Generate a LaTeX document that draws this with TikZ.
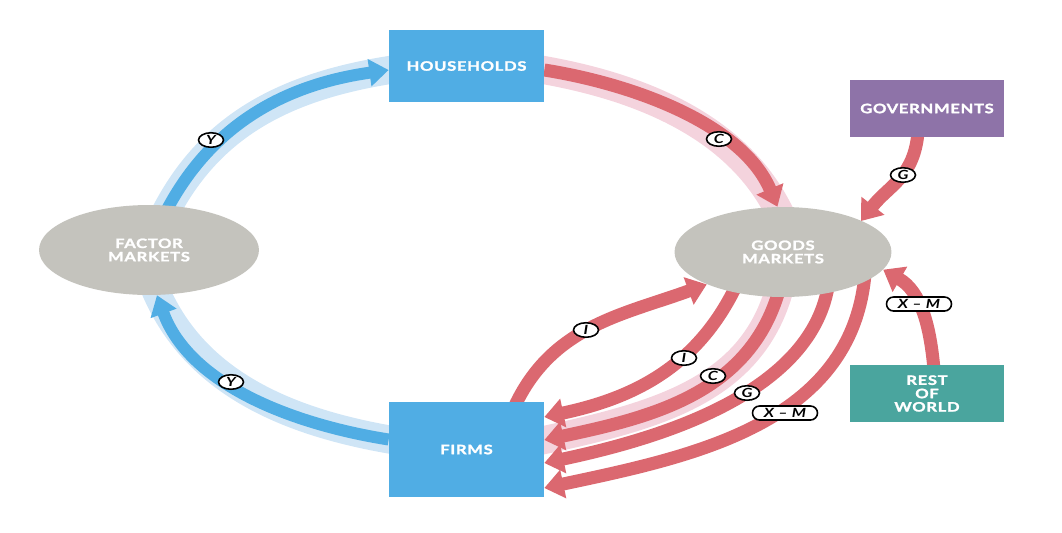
\documentclass[tikz,border=0pt]{standalone}
\usepackage{fontspec}
\newfontfamily\diagfont[FakeStretch=1.28,LetterSpace=5,BoldFeatures={FakeBold=1.6}]{Lato}
\usetikzlibrary{arrows.meta,shapes.geometric,shapes.misc,calc,backgrounds}

\definecolor{sectorblue}{RGB}{80,173,228}
\definecolor{bandblueclr}{RGB}{207,229,246}
\definecolor{flowredclr}{RGB}{219,104,112}
\definecolor{bandpinkclr}{RGB}{244,211,221}
\definecolor{marketgray}{RGB}{196,195,189}
\definecolor{govpurple}{RGB}{142,115,168}
\definecolor{worldteal}{RGB}{74,165,158}

\begin{document}
\begin{tikzpicture}[x=0.02cm,y=0.02cm,
  sectorbox/.style={rectangle,inner sep=0pt,text=white,align=center,
    font=\diagfont\bfseries\fontsize{7.4}{7.6}\selectfont},
  marketoval/.style={ellipse,fill=marketgray,inner sep=0pt,text=white,align=center,
    minimum width=4.4cm,minimum height=1.8cm,
    font=\diagfont\bfseries\fontsize{7.4}{7.6}\selectfont},
  flowred/.style={draw=flowredclr,line width=7.4pt,-{Triangle[length=11pt,width=16pt]}},
  flowblue/.style={draw=sectorblue,line width=6.8pt,-{Triangle[length=11pt,width=15pt]}},
  bandpink/.style={draw=bandpinkclr,line width=16pt},
  bandblue/.style={draw=bandblueclr,line width=16pt},
  flowtag/.style={ellipse,draw=black,line width=0.9pt,fill=white,inner sep=0pt,
    minimum width=0.5cm,minimum height=0.29cm,
    font=\diagfont\bfseries\itshape\fontsize{7.2}{7.2}\selectfont},
  widetag/.style={flowtag,rounded rectangle,minimum width=1.3cm,minimum height=0.28cm}]

\useasboundingbox (0,0) rectangle (1062,-532);

% sectors and markets
\node[sectorbox,fill=sectorblue,minimum width=3.1cm,minimum height=1.44cm] (hh) at (466.5,-66) {HOUSEHOLDS};
\node[sectorbox,fill=sectorblue,minimum width=3.1cm,minimum height=1.9cm] (firms) at (466.5,-449.5) {FIRMS};
\node[sectorbox,fill=govpurple,minimum width=3.08cm,minimum height=1.14cm] (gov) at (927,-108.5) {GOVERNMENTS};
\node[sectorbox,fill=worldteal,minimum width=3.08cm,minimum height=1.14cm] (row) at (927,-393.5) {REST\\OF\\WORLD};
\node[marketoval] (factor) at (149,-250) {FACTOR\\MARKETS};
\node[marketoval,minimum width=4.34cm] (goods) at (783,-252) {GOODS\\MARKETS};

\begin{scope}[on background layer]
  % pale bands behind the main flows, on the same paths, run into the nodes
  \draw[bandblue,shorten >=-8pt] ($(factor.center)+(8,20)$) to[out=66,in=188] ($(hh.west)+(0,-4)$);
  \draw[bandblue,shorten <=-8pt,shorten >=-10pt] ($(firms.west)+(0,10)$) to[out=171,in=-70,looseness=0.9] (factor.-80);
  \draw[bandpink,shorten <=-8pt,shorten >=-10pt] ($(hh.east)+(0,-4)$) to[out=-9,in=113,looseness=0.85] (goods.97);
  \draw[bandpink,shorten >=-8pt] ($(goods.center)+(-3,-35)$) to[out=-105,in=12] ($(firms.east)+(0,9.5)$);

  % income and spending flows
  \draw[flowblue] ($(factor.center)+(8,20)$) to[out=66,in=188] ($(hh.west)+(0,-4)$);
  \draw[flowblue] ($(firms.west)+(0,10)$) to[out=171,in=-70,looseness=0.9] (factor.-80);
  \draw[flowred] ($(hh.east)+(0,-4)$) to[out=-9,in=113,looseness=0.85] (goods.97);
  \draw[flowred] ($(gov.south)+(-9,5)$) to[out=-95,in=52,looseness=1.1] ($(goods.center)+(78,31)$);
  \draw[flowred] ($(row.north)+(7,-5)$) to[out=95,in=-30] (goods.-10);
  \draw[flowred] ($(firms.north)+(48,-5)$) to[out=65,in=200] (goods.-157);
  \draw[flowred] ($(goods.center)+(-45,-30)$) to[out=-115,in=12] ($(firms.east)+(0,32.5)$);
  \draw[flowred] ($(goods.center)+(-3,-35)$) to[out=-105,in=12] ($(firms.east)+(0,9.5)$);
  \draw[flowred] ($(goods.center)+(45,-35)$) to[out=-100,in=12,looseness=0.85] ($(firms.east)+(0,-13.5)$);
  \draw[flowred] ($(goods.center)+(82,-22)$) to[out=-95,in=12] ($(firms.east)+(0,-38.5)$);
\end{scope}

% flow labels
\node[flowtag] (yup) at (211,-140) {Y};
\node[flowtag] (ydown) at (231,-382) {Y};
\node[flowtag] (cup) at (719,-139) {C};
\node[flowtag] (ggov) at (903,-175) {G};
\node[widetag] (xmrow) at (919,-304) {X – M};
\node[flowtag] (iout) at (586,-330) {I};
\node[flowtag] (iback) at (684,-358) {I};
\node[flowtag] (cback) at (713,-376) {C};
\node[flowtag] (gback) at (747,-393) {G};
\node[widetag] (xmback) at (785,-413) {X – M};
\end{tikzpicture}
\end{document}
